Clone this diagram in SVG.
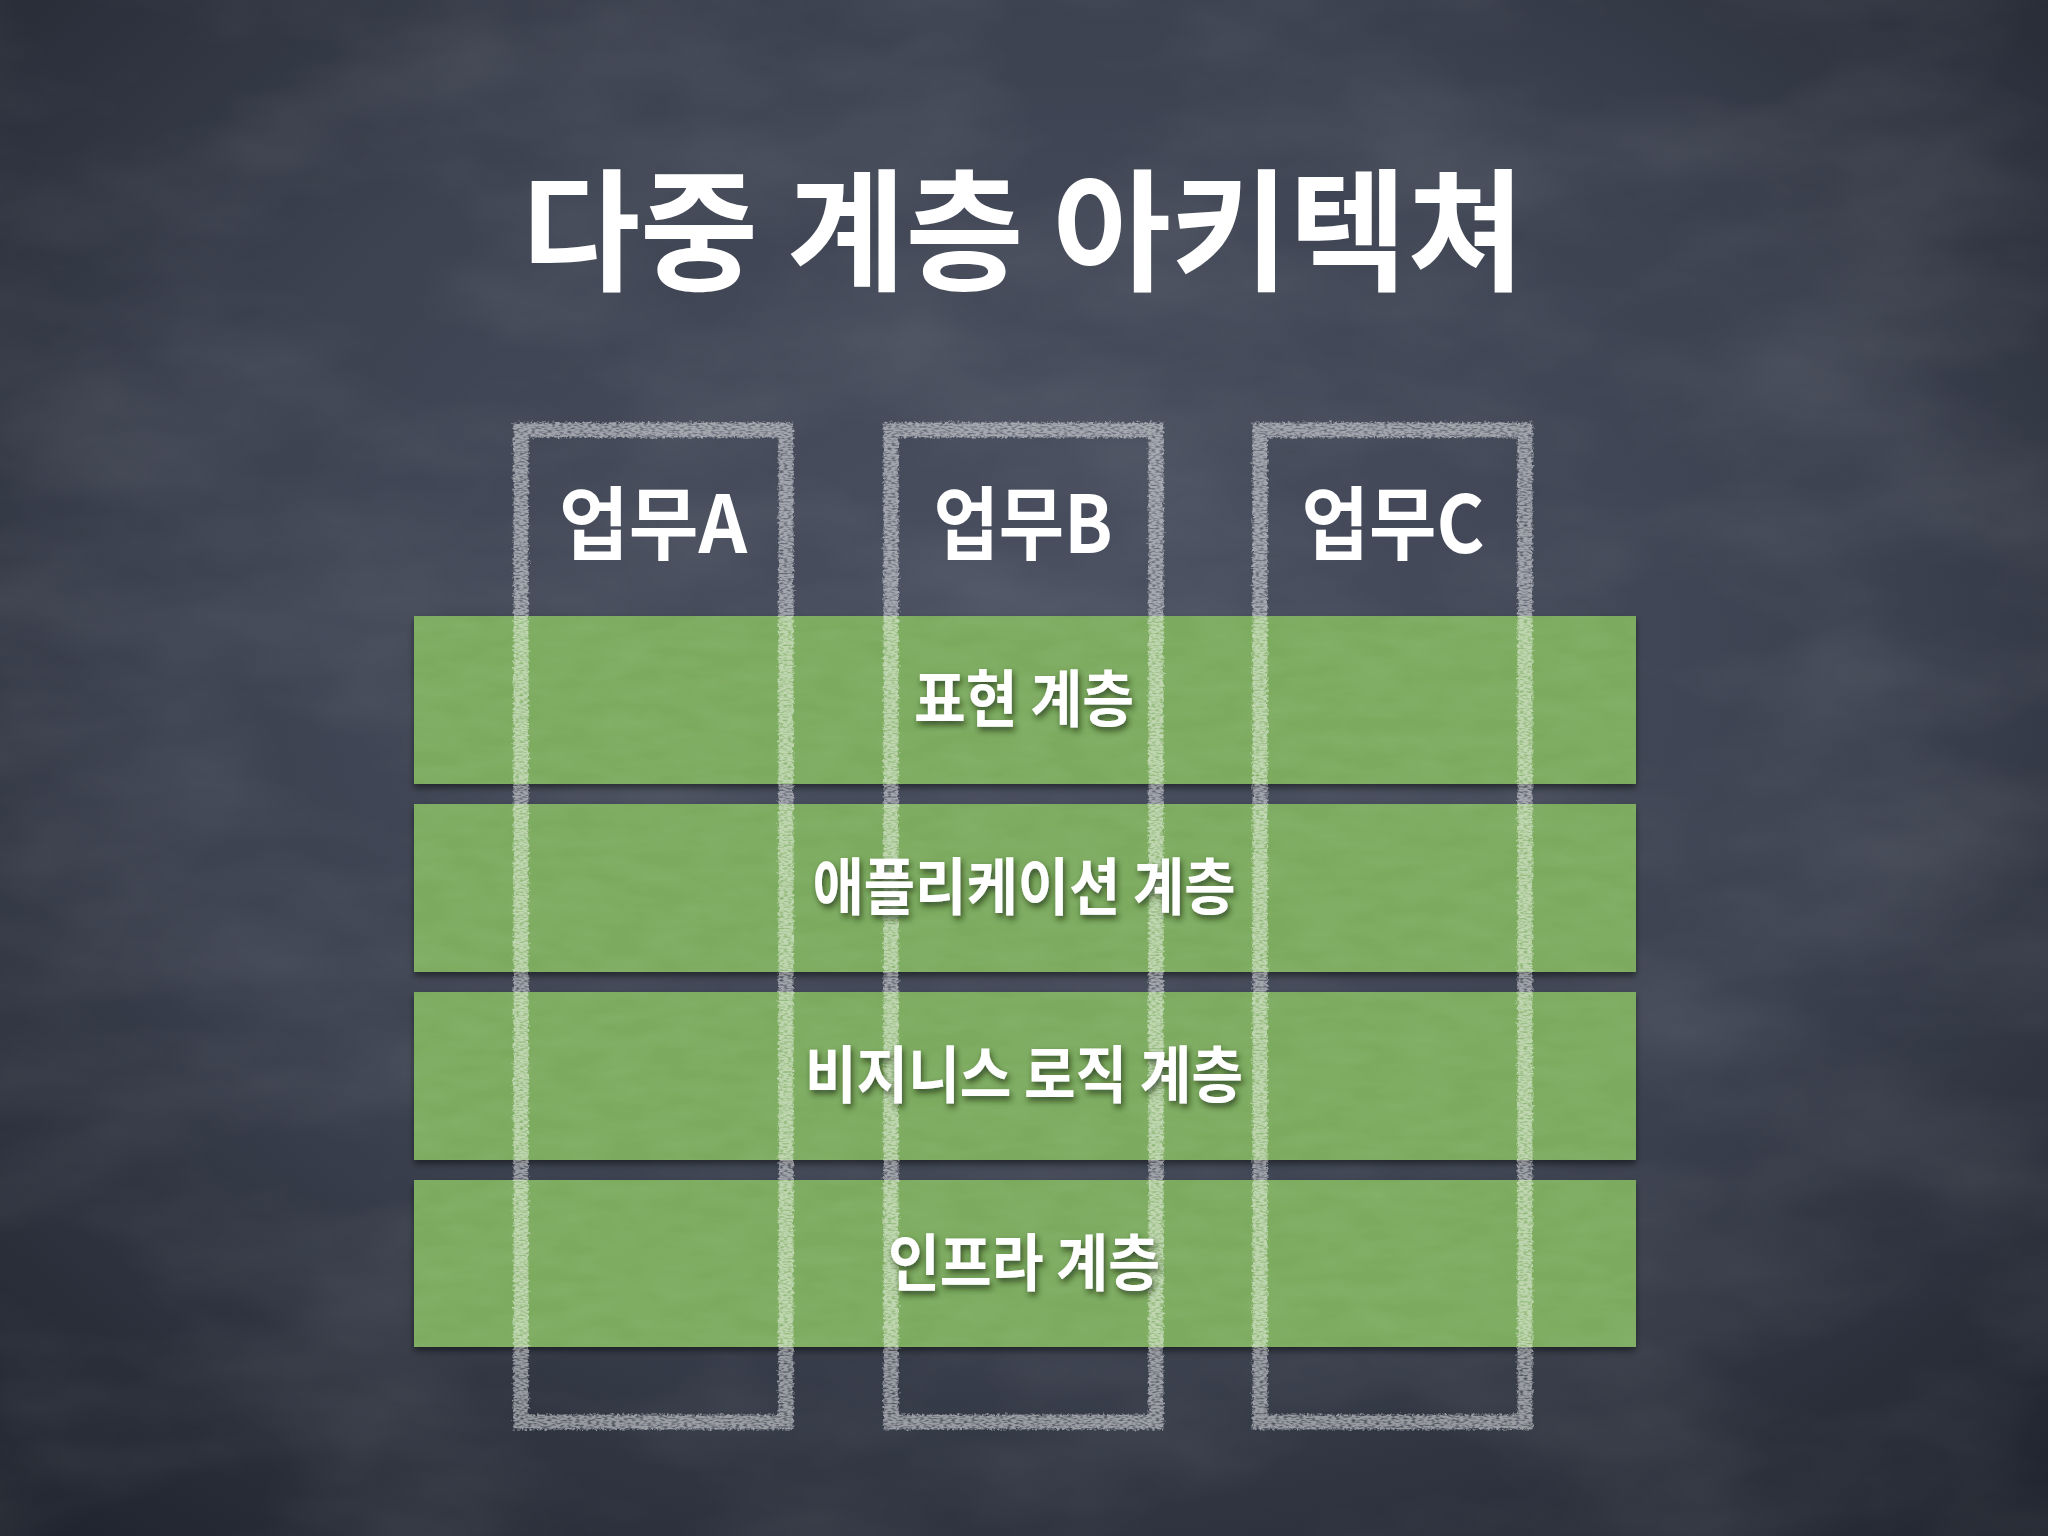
<svg xmlns="http://www.w3.org/2000/svg" width="2048" height="1536" viewBox="0 0 2048 1536">
<defs>
<radialGradient id="bgGrad" cx="50%" cy="42%" r="75%">
<stop offset="0" stop-color="#4a5060"/>
<stop offset="0.55" stop-color="#3c4250"/>
<stop offset="1" stop-color="#20242e"/>
</radialGradient>
<filter id="noise" x="0" y="0" width="100%" height="100%">
<feTurbulence type="fractalNoise" baseFrequency="0.004 0.009" numOctaves="4" seed="4" result="t"/>
<feColorMatrix in="t" type="matrix" values="0 0 0 0 1  0 0 0 0 1  0 0 0 0 1  0 0 0 0.14 -0.05"/>
</filter>
<filter id="chalk" x="-5%" y="-5%" width="110%" height="110%">
<feTurbulence type="fractalNoise" baseFrequency="0.4" numOctaves="2" seed="7" result="n"/>
<feDisplacementMap in="SourceGraphic" in2="n" scale="6" xChannelSelector="R" yChannelSelector="G" result="d"/>
<feTurbulence type="fractalNoise" baseFrequency="0.25 0.6" numOctaves="1" seed="3" result="s"/>
<feColorMatrix in="s" type="matrix" values="0 0 0 0 0  0 0 0 0 0  0 0 0 0 0  0 0 0 -2.2 1.95" result="m"/>
<feComposite in="d" in2="m" operator="in"/>
</filter>
<filter id="barShadow" x="-2%" y="-10%" width="104%" height="125%">
<feDropShadow dx="0" dy="4" stdDeviation="3" flood-color="#000" flood-opacity="0.45"/>
</filter>
<filter id="txtShadow" x="-10%" y="-30%" width="120%" height="160%">
<feDropShadow dx="2" dy="4" stdDeviation="3" flood-color="#1a2a10" flood-opacity="0.7"/>
</filter>
<filter id="greenTex" x="0" y="0" width="100%" height="100%">
<feTurbulence type="fractalNoise" baseFrequency="0.02 0.06" numOctaves="3" seed="11" result="t"/>
<feColorMatrix in="t" type="matrix" values="0 0 0 0 1  0 0 0 0 1  0 0 0 0 0.9  0 0 0 0.1 -0.03"/>
</filter>
</defs>
<style>
.title{font-family:"Noto Sans CJK KR","Noto Sans",sans-serif;font-weight:700;fill:#ffffff;}
.col{font-family:"Noto Sans CJK KR","Noto Sans",sans-serif;font-weight:700;fill:#ffffff;text-anchor:middle;}
.lbl{font-family:"Noto Sans CJK KR","Noto Sans",sans-serif;font-weight:700;fill:#ffffff;text-anchor:middle;}
.bar{fill:#7cab5f;}
.box{fill:none;stroke:#ffffff;stroke-opacity:0.5;stroke-width:15;}
</style>
<rect width="2048" height="1536" fill="url(#bgGrad)"/>
<rect width="2048" height="1536" filter="url(#noise)"/>

<g id="title">
<text class="title" x="522" y="280" font-size="132" textLength="1003" lengthAdjust="spacingAndGlyphs">다중 계층 아키텍쳐</text>
</g>

<g id="layers" filter="url(#barShadow)">
<g id="layer-presentation"><rect class="bar" x="414" y="616" width="1222" height="168"/></g>
<g id="layer-application"><rect class="bar" x="414" y="804" width="1222" height="168"/></g>
<g id="layer-business"><rect class="bar" x="414" y="992" width="1222" height="168"/></g>
<g id="layer-infra"><rect class="bar" x="414" y="1180" width="1222" height="167"/></g>
</g>
<g id="layer-texture">
<rect x="414" y="616" width="1222" height="168" filter="url(#greenTex)"/>
<rect x="414" y="804" width="1222" height="168" filter="url(#greenTex)"/>
<rect x="414" y="992" width="1222" height="168" filter="url(#greenTex)"/>
<rect x="414" y="1180" width="1222" height="167" filter="url(#greenTex)"/>
</g>

<g id="columns" filter="url(#chalk)">
<g id="col-a"><rect class="box" x="521" y="430" width="265" height="992"/></g>
<g id="col-b"><rect class="box" x="891" y="430" width="265" height="992"/></g>
<g id="col-c"><rect class="box" x="1260" y="430" width="265" height="992"/></g>
</g>

<g id="col-labels">
<text class="col" x="653" y="553" font-size="80" textLength="188" lengthAdjust="spacingAndGlyphs">업무A</text>
<text class="col" x="1023" y="553" font-size="80" textLength="179" lengthAdjust="spacingAndGlyphs">업무B</text>
<text class="col" x="1393" y="553" font-size="80" textLength="183" lengthAdjust="spacingAndGlyphs">업무C</text>
</g>

<g id="layer-labels" filter="url(#txtShadow)">
<text class="lbl" x="1024" y="722" font-size="62" textLength="220" lengthAdjust="spacingAndGlyphs">표현 계층</text>
<text class="lbl" x="1024" y="910" font-size="62" textLength="423" lengthAdjust="spacingAndGlyphs">애플리케이션 계층</text>
<text class="lbl" x="1024" y="1098" font-size="62" textLength="438" lengthAdjust="spacingAndGlyphs">비지니스 로직 계층</text>
<text class="lbl" x="1024" y="1286" font-size="62" textLength="272" lengthAdjust="spacingAndGlyphs">인프라 계층</text>
</g>
</svg>
